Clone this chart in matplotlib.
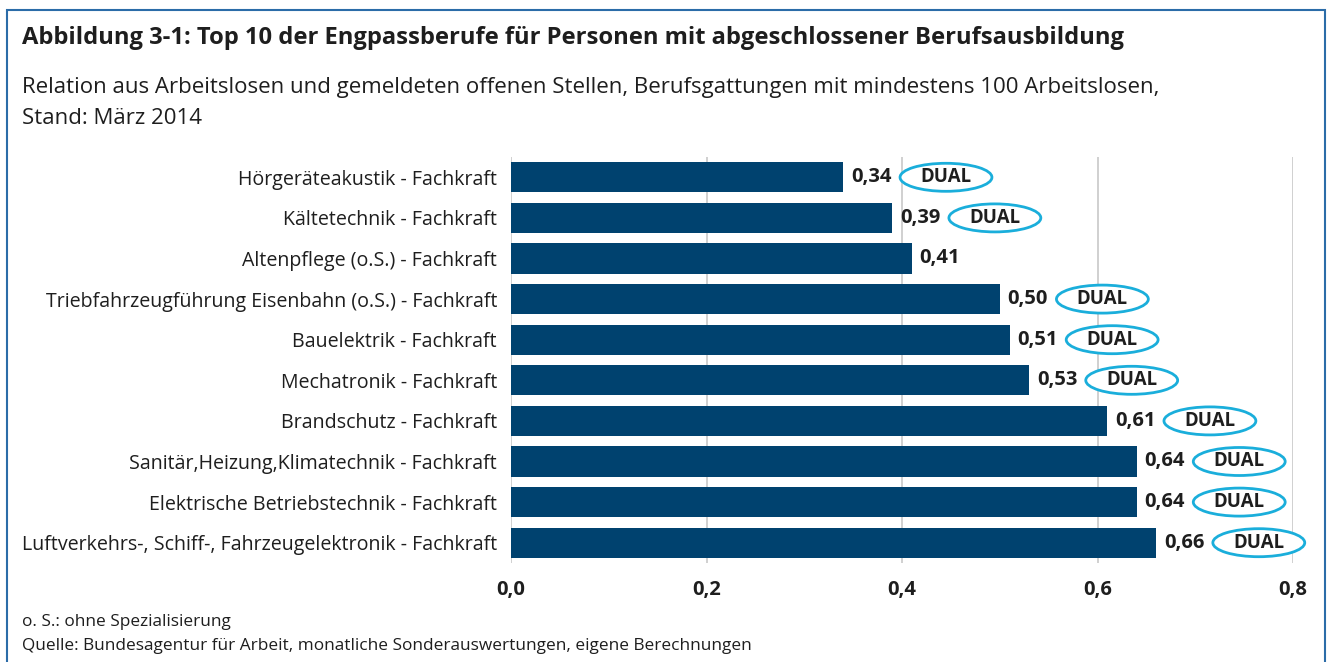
import matplotlib.pyplot as plt
from matplotlib.patches import Ellipse, Rectangle

plt.rcParams['font.family'] = ['Open Sans', 'DejaVu Sans']

# data
berufe = ['Hörgeräteakustik - Fachkraft',
          'Kältetechnik - Fachkraft',
          'Altenpflege (o.S.) - Fachkraft',
          'Triebfahrzeugführung Eisenbahn (o.S.) - Fachkraft',
          'Bauelektrik - Fachkraft',
          'Mechatronik - Fachkraft',
          'Brandschutz - Fachkraft',
          'Sanitär,Heizung,Klimatechnik - Fachkraft',
          'Elektrische Betriebstechnik - Fachkraft',
          'Luftverkehrs-, Schiff-, Fahrzeugelektronik - Fachkraft']
relation = [0.34, 0.39, 0.41, 0.50, 0.51, 0.53, 0.61, 0.64, 0.64, 0.66]
dual = [True, True, False, True, True, True, True, True, True, True]
xticks = [0.0, 0.2, 0.4, 0.6, 0.8]

bar_col = '#00426F'
ell_col = '#1AAEDB'
txt_col = '#1E1E1E'

fig = plt.figure(figsize=(13.33, 6.62), dpi=100)
ax = fig.add_axes([511/1333, 1-563/662, (1293-511)/1333, (563-157)/662])

y = list(range(len(berufe)))
ax.barh(y, relation, height=0.74, color=bar_col, zorder=3)
ax.set_ylim(len(berufe)-0.5, -0.5)
ax.set_xlim(0, 0.8)
ax.set_xticks(xticks)
ax.set_xticklabels([f'{t:.1f}'.replace('.', ',') for t in xticks],
                   fontsize=14.5, fontweight='bold', color=txt_col)
ax.set_yticks(y)
ax.set_yticklabels(berufe, fontsize=14.1, color=txt_col)
ax.tick_params(length=0)
ax.tick_params(axis='x', pad=12)
ax.tick_params(axis='y', pad=10)
ax.grid(axis='x', color='#C8C8C8', lw=1.2, zorder=0)
for s in ax.spines.values():
    s.set_visible(False)

for i, (v, d) in enumerate(zip(relation, dual)):
    ax.text(v + 0.008, i, f'{v:.2f}'.replace('.', ','), va='center', ha='left',
            fontsize=14.5, fontweight='bold', color=txt_col, zorder=4)
    if d:
        ax.add_patch(Ellipse((v + 0.105, i), 0.094, 0.69, facecolor='white',
                             edgecolor=ell_col, lw=2, zorder=4, clip_on=False))
        ax.text(v + 0.105, i, 'DUAL', va='center', ha='center',
                fontsize=13.4, fontweight='bold', color=txt_col, zorder=5)

# titles
fig.text(22/1333, 1-38/662, 'Abbildung 3-1: Top 10 der Engpassberufe für Personen mit abgeschlossener Berufsausbildung',
         fontsize=17.1, fontweight='bold', color=txt_col, va='center')
fig.text(22/1333, 1-88/662, 'Relation aus Arbeitslosen und gemeldeten offenen Stellen, Berufsgattungen mit mindestens 100 Arbeitslosen,',
         fontsize=16.0, color=txt_col, va='center')
fig.text(22/1333, 1-118/662, 'Stand: März 2014', fontsize=16.0, color=txt_col, va='center')

# footer
fig.text(22/1333, 1-622/662, 'o. S.: ohne Spezialisierung', fontsize=12.45, color=txt_col, va='center')
fig.text(22/1333, 1-646/662, 'Quelle: Bundesagentur für Arbeit, monatliche Sonderauswertungen, eigene Berechnungen',
         fontsize=12.45, color=txt_col, va='center')

# frame
fig.patches.append(Rectangle((7/1333, -0.05), (1325-7)/1333, 1.05-10/662,
                             transform=fig.transFigure, fill=False,
                             edgecolor='#2B6CA8', lw=1.5, clip_on=False))

fig.savefig('out.png', dpi=100)
